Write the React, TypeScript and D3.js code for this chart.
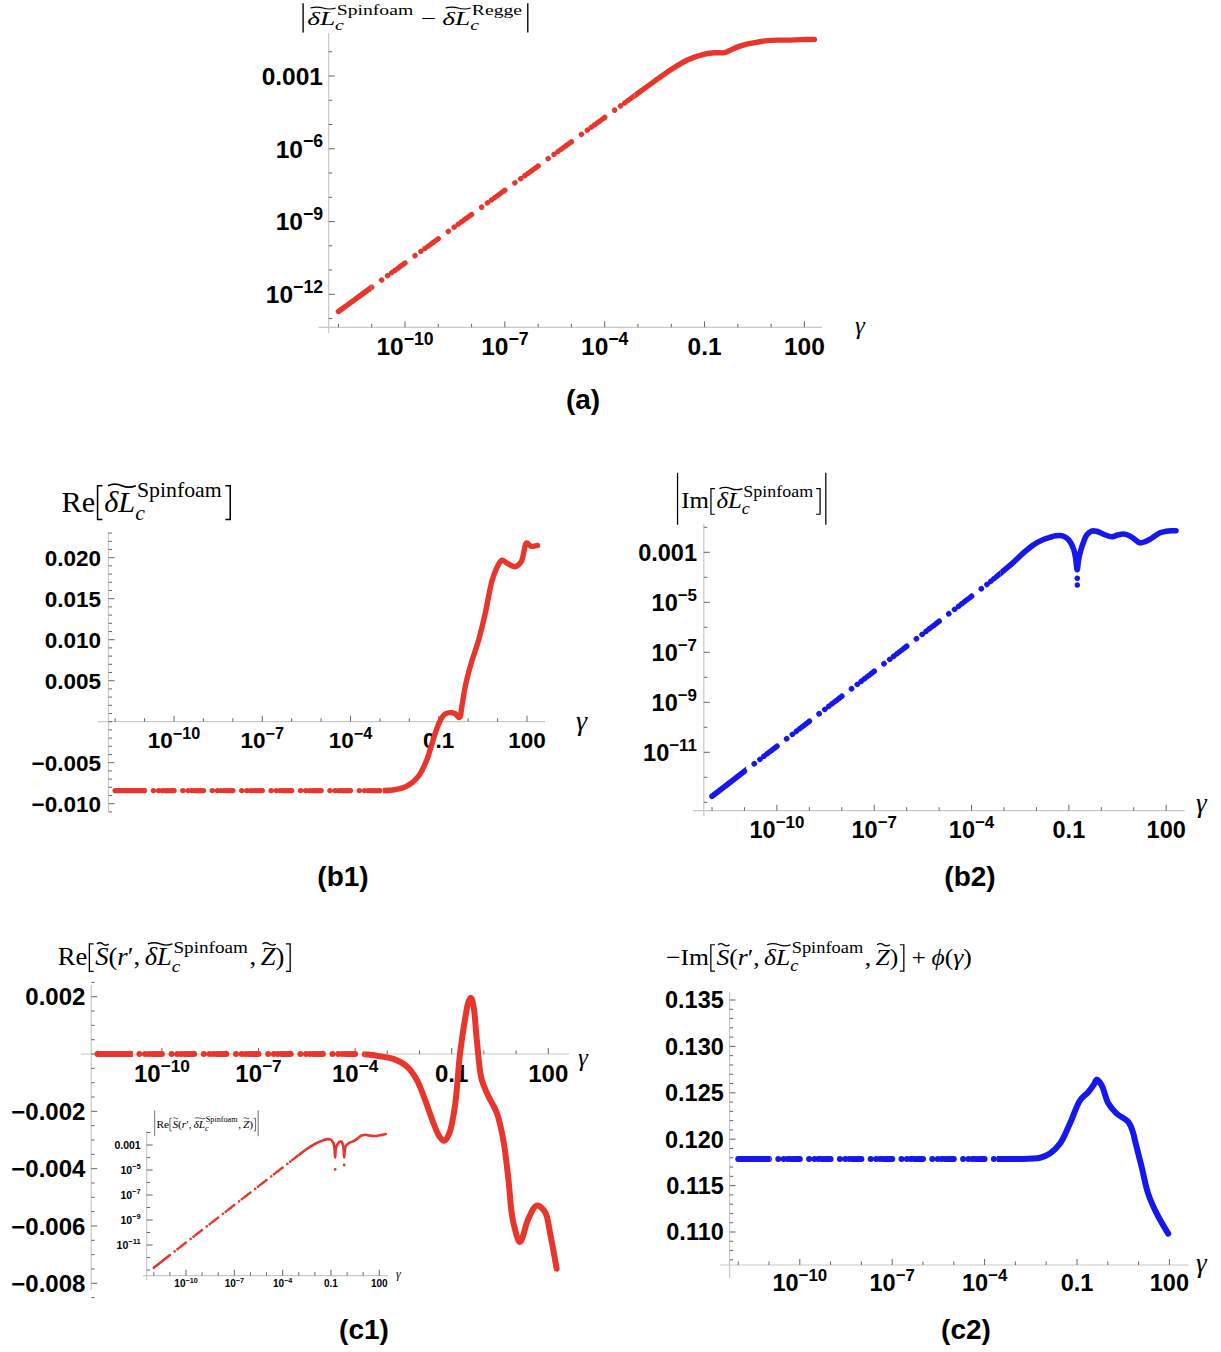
import React from 'react';
import * as d3 from 'd3';

const RED = '#e8362c';
const BLUE = '#1616ee';
const AXIS = '#c8c8c8';
const TICK = '#666666';
const SANS = "'Liberation Sans', Arial, sans-serif";
const SERIF = "'Liberation Serif', 'DejaVu Serif', serif";

// ---------------- data (log10 of gamma, values) ----------------
// (a) |dL spinfoam - dL regge|  (log10 of value)
const aLogGamma = [-12, -11.5, -11, -10, -9, -8, -7, -6, -5, -4, -3, -2.5, -2.0, -1.5, -1.0, -0.7, -0.4, -0.25, 0, 0.3, 0.6, 0.9, 1.2, 1.5, 1.9, 2.3];
const aLogValue = [-12.71, -12.21, -11.71, -10.71, -9.71, -8.71, -7.71, -6.71, -5.71, -4.71, -3.71, -3.21, -2.73, -2.33, -2.10, -2.04, -2.04, -1.95, -1.80, -1.68, -1.60, -1.54, -1.52, -1.52, -1.50, -1.49];

// (b1) Re[dL spinfoam]
const b1LogGamma = [-12, -11, -10, -9, -8, -7, -6, -5, -4, -3, -2.9, -2.5, -2.1, -1.7, -1.41, -1.19, -0.97, -0.8, -0.62, -0.45, -0.3, -0.2, -0.1, 0.1, 0.36, 0.58, 0.82, 1.02, 1.15, 1.34, 1.6, 1.8, 1.99, 2.13, 2.36];
const b1Value = [-0.0084, -0.0084, -0.0084, -0.0084, -0.0084, -0.0084, -0.0084, -0.0084, -0.0084, -0.0084, -0.0084, -0.0083, -0.0079, -0.0067, -0.0047, -0.0022, 0.0000, 0.0009, 0.0011, 0.0010, 0.0005, 0.0022, 0.0043, 0.0071, 0.0100, 0.0132, 0.0173, 0.0191, 0.0197, 0.0193, 0.0189, 0.0195, 0.0218, 0.0214, 0.0215];

// (b2) |Im[dL spinfoam]| (log10 of value)
const b2LogGamma = [-12, -11, -10, -9, -8, -7, -6, -5, -4, -3.5, -3.0, -2.71, -2.4, -2.1, -1.8, -1.58, -1.4, -1.22, -1.08, -0.96, -0.85, -0.79, -0.745, -0.70, -0.64, -0.55, -0.45, -0.3, -0.15, 0.06, 0.32, 0.5, 0.68, 0.85, 0.99, 1.19, 1.35, 1.5, 1.81, 2.0, 2.17, 2.3];
const b2LogValue = [-12.76, -11.76, -10.76, -9.76, -8.76, -7.76, -6.76, -5.76, -4.76, -4.26, -3.72, -3.40, -3.02, -2.71, -2.50, -2.40, -2.34, -2.34, -2.42, -2.58, -2.88, -3.25, -3.70, -3.30, -2.95, -2.60, -2.31, -2.15, -2.16, -2.27, -2.38, -2.31, -2.27, -2.33, -2.44, -2.62, -2.57, -2.48, -2.22, -2.16, -2.14, -2.14];
const b2DipLogGamma = [-0.74, -0.74];
const b2DipLogValue = [-4.04, -4.31];

// (c1) Re[S(r', dL, Z)]
const c1LogGamma = [-12, -11, -10, -9, -8, -7, -6, -5, -4, -3.6, -3.23, -2.81, -2.4, -2.09, -1.83, -1.57, -1.38, -1.24, -1.08, -0.9, -0.74, -0.59, -0.47, -0.4, -0.32, -0.22, -0.07, 0.14, 0.4, 0.6, 0.76, 0.86, 0.95, 1.12, 1.38, 1.64, 1.9, 2.05, 2.26];
const c1Value = [0, 0, 0, 0, 0, 0, 0, 0, 0, -0.00002, -0.00008, -0.00017, -0.00043, -0.00089, -0.00159, -0.0024, -0.00288, -0.00303, -0.00278, -0.00182, 0.00003, 0.00119, 0.00185, 0.00196, 0.00165, 0.0005, -0.00089, -0.00147, -0.00205, -0.00298, -0.00436, -0.00552, -0.00605, -0.00656, -0.00575, -0.00529, -0.00552, -0.00622, -0.00749];

// (c1 inset) |Re[S]| (log10 of value)
const inLogGamma = [-12, -11, -10, -9, -8, -7, -6, -5, -4, -3, -2.5, -2.0, -1.6, -1.24, -1.0, -0.85, -0.78, -0.74, -0.70, -0.59, -0.4, -0.3, -0.22, -0.18, -0.14, -0.07, 0.14, 0.4, 0.6, 0.76, 0.9, 1.12, 1.38, 1.64, 1.9, 2.1, 2.4];
const inLogValue = [-12.82, -11.81, -10.8, -9.8, -8.8, -7.8, -6.8, -5.8, -4.8, -3.8, -3.32, -2.92, -2.68, -2.53, -2.58, -2.85, -3.3, -4.0, -3.3, -2.92, -2.71, -2.82, -3.3, -4.0, -3.4, -3.05, -2.83, -2.69, -2.53, -2.36, -2.24, -2.18, -2.24, -2.28, -2.26, -2.21, -2.12];
const inDipLogGamma = [-0.74, -0.18];
const inDipLogValue = [-4.95, -4.6];

// (c2) -Im[S] + phi
const c2LogGamma = [-12, -11, -10, -9, -8, -7, -6, -5, -4, -3, -2.2, -1.88, -1.55, -1.23, -0.9, -0.63, -0.45, -0.36, -0.2, 0.02, 0.29, 0.67, 0.83, 0.88, 1.1, 1.31, 1.59, 1.96];
const c2Value = [0.11787, 0.11787, 0.11787, 0.11787, 0.11787, 0.11787, 0.11787, 0.11787, 0.11787, 0.11787, 0.1180, 0.11845, 0.11953, 0.12168, 0.12419, 0.12509, 0.1259, 0.12642, 0.12581, 0.12384, 0.12276, 0.12185, 0.1206, 0.11988, 0.1170, 0.11414, 0.11198, 0.10983];

// ---------------- ticks ----------------
const xMajorExp = [-10, -7, -4, -1, 2];
const xMajorLabel = ['10^-10', '10^-7', '10^-4', '0.1', '100'];
const xMinorExp = d3.range(-12, 3);
const aYMajorExp = [-3, -6, -9, -12];
const aYMajorLabel = ['0.001', '10^-6', '10^-9', '10^-12'];
const b2YMajorExp = [-3, -5, -7, -9, -11];
const b2YMajorLabel = ['0.001', '10^-5', '10^-7', '10^-9', '10^-11'];
const logYMinorExp = d3.range(-13, -1);
const b1YMajor = [0.02, 0.015, 0.01, 0.005, -0.005, -0.01];
const b1YMajorLabel = ['0.020', '0.015', '0.010', '0.005', '-0.005', '-0.010'];
const b1YMinor = d3.range(-11, 24).map((i) => i * 0.001);
const c1YMajor = [0.002, -0.002, -0.004, -0.006, -0.008];
const c1YMajorLabel = ['0.002', '-0.002', '-0.004', '-0.006', '-0.008'];
const c1YMinor = d3.range(-17, 6).map((i) => i * 0.0005);
const c2YMajor = [0.135, 0.13, 0.125, 0.12, 0.115, 0.11];
const c2YMajorLabel = ['0.135', '0.130', '0.125', '0.120', '0.115', '0.110'];
const c2YMinor = d3.range(107, 136).map((i) => i * 0.001);

// ---------------- helpers ----------------
let _ctx: any = null;
function measure(t: string, size: number, italic = false): number {
  if (!_ctx) _ctx = document.createElement('canvas').getContext('2d');
  _ctx.font = `${italic ? 'italic ' : ''}${size}px ${SERIF}`;
  return _ctx.measureText(t).width;
}

const fixMinus = (s: string) => s.replace('-', '\u2212');

function TickLabel({ x, y, size, label, anchor }: any) {
  const m = /^10\^(-?\d+)$/.exec(label);
  return (
    <text x={x} y={y} fontSize={size} fontFamily={SANS} fontWeight="bold" textAnchor={anchor} fill="#000">
      {m ? (
        <>
          10
          <tspan dy={-0.42 * size} fontSize={size * 0.72}>
            {fixMinus(m[1])}
          </tspan>
        </>
      ) : (
        fixMinus(label)
      )}
    </text>
  );
}

function decadeDash(L: number) {
  const parts: string[] = [];
  for (let k = 1; k <= 9; k++) {
    const g = (Math.log10(k + 1) - Math.log10(k)) * L;
    parts.push(`0.01 ${Math.max(0.01, g - 0.01).toFixed(3)}`);
  }
  return parts.join(' ');
}

function Axes({ xLine, yLine, xTicks, yTicks }: any) {
  return (
    <g>
      <line x1={xLine.x0} x2={xLine.x1} y1={xLine.y} y2={xLine.y} stroke={AXIS} strokeWidth={1.2} />
      <line x1={yLine.x} x2={yLine.x} y1={yLine.y0} y2={yLine.y1} stroke={AXIS} strokeWidth={1.2} />
      {xTicks.map((t: any, i: number) => (
        <line key={'xt' + i} x1={t.p} x2={t.p} y1={xLine.y} y2={xLine.y - (t.major ? 6 : 3.5)} stroke={TICK} strokeWidth={1} />
      ))}
      {yTicks.map((t: any, i: number) => (
        <line key={'yt' + i} x1={yLine.x} x2={yLine.x + (t.major ? 6 : 3.5)} y1={t.p} y2={t.p} stroke={TICK} strokeWidth={1} />
      ))}
    </g>
  );
}

function Series({ id, pts, color, width, segs, dash }: any) {
  const d = d3.line().curve(d3.curveCatmullRom.alpha(0.5))(pts) || '';
  return (
    <g>
      <defs>
        {segs.map((s: any, i: number) => (
          <clipPath id={`${id}-${i}`} key={i}>
            <rect x={s[0]} y={0} width={s[1] - s[0]} height={1352} />
          </clipPath>
        ))}
      </defs>
      {segs.map((s: any, i: number) => (
        <path
          key={i}
          d={d}
          clipPath={`url(#${id}-${i})`}
          fill="none"
          stroke={color}
          strokeWidth={width}
          strokeLinecap="round"
          strokeLinejoin="round"
          strokeDasharray={s[2] ? dash : undefined}
        />
      ))}
    </g>
  );
}

// ---------------- math titles ----------------
type TI =
  | { k: 't'; t: string; it?: boolean; tl?: boolean }
  | { k: 'ss'; sup: string; sub: string }
  | { k: 'd'; t: string; top: number; bot: number }
  | { k: 'sp'; w: number };

const SS = 0.72;
function itemWidth(it: TI, F: number): number {
  if (it.k === 't') return measure(it.t, F, !!it.it);
  if (it.k === 'ss') return Math.max(measure(it.sup, F * SS) + 0.06 * F, measure(it.sub, F * SS, true)) + 0.06 * F;
  if (it.k === 'd') return 0.3 * F;
  return it.w * F;
}

function tildePath(x0: number, w: number, y: number, a: number) {
  return `M${x0},${y} q${w / 4},${-2 * a} ${w / 2},0 t${w / 2},0`;
}

function MathTitle({ items, left, right, base, shrink = 1 }: { items: TI[]; left: number; right: number; base: number; shrink?: number }) {
  const F0 = 20;
  const W0 = items.reduce((s, it) => s + itemWidth(it, F0), 0);
  const F = ((F0 * (right - left)) / W0) * shrink;
  const kx = 1 / shrink;
  let x = left;
  const els: any[] = [];
  items.forEach((it, i) => {
    const w = itemWidth(it, F);
    if (it.k === 't') {
      els.push(
        <text key={i} x={x} y={base} fontSize={F} fontFamily={SERIF} fontStyle={it.it ? 'italic' : 'normal'} fill="#000">
          {it.t}
        </text>
      );
      if (it.tl) {
        els.push(<path key={i + 'tl'} d={tildePath(x + 0.12 * w, w * 0.9, base - 0.86 * F, 0.05 * F)} fill="none" stroke="#000" strokeWidth={0.055 * F} />);
      }
    } else if (it.k === 'ss') {
      els.push(
        <text key={i + 'sup'} x={x + 0.06 * F} y={base - 0.5 * F} fontSize={F * SS} fontFamily={SERIF} fill="#000">
          {it.sup}
        </text>
      );
      els.push(
        <text key={i + 'sub'} x={x} y={base + 0.27 * F} fontSize={F * SS} fontFamily={SERIF} fontStyle="italic" fill="#000">
          {it.sub}
        </text>
      );
    } else if (it.k === 'd') {
      const top = base - it.top * F;
      const bot = base + it.bot * F;
      const sw = 0.05 * F;
      let p = '';
      if (it.t === '[') p = `M${x + 0.24 * F},${top} H${x + 0.08 * F} V${bot} H${x + 0.24 * F}`;
      else if (it.t === ']') p = `M${x + 0.06 * F},${top} H${x + 0.22 * F} V${bot} H${x + 0.06 * F}`;
      else p = `M${x + 0.15 * F},${top} V${bot}`;
      els.push(<path key={i} d={p} fill="none" stroke="#000" strokeWidth={sw} />);
    }
    x += w;
  });
  return <g transform={`translate(${left},0) scale(${kx},1) translate(${-left},0)`}>{els}</g>;
}

const T = (t: string, it = false, tl = false): TI => ({ k: 't', t, it, tl });
const SP = (w: number): TI => ({ k: 'sp', w });
const D = (t: string, top = 0.86, bot = 0.26): TI => ({ k: 'd', t, top, bot });
const DB = (t: string): TI => ({ k: 'd', t, top: 1.55, bot: 0.72 });
const dL: TI = T('\u03b4L', true, true);
const ssSF: TI = { k: 'ss', sup: 'Spinfoam', sub: 'c' };
const sArgs: TI[] = [T('S', true, true), T('('), T('r', true), T('\u2032'), T(','), SP(0.17), dL, ssSF, T(','), SP(0.17), T('Z', true, true), T(')')];

const titleA: TI[] = [D('|', 1.1, 0.38), dL, ssSF, SP(0.22), T('\u2212'), SP(0.22), dL, { k: 'ss', sup: 'Regge', sub: 'c' }, D('|', 1.1, 0.38)];
const titleB1: TI[] = [T('Re'), D('['), dL, ssSF, D(']')];
const titleB2: TI[] = [DB('|'), T('Im'), D('['), dL, ssSF, D(']'), DB('|')];
const titleC1: TI[] = [T('Re'), D('['), ...sArgs, D(']')];
const titleC2: TI[] = [T('\u2212Im'), D('['), ...sArgs, D(']'), SP(0.22), T('+'), SP(0.22), T('\u03d5', true), T('('), T('\u03b3', true), T(')')];
const titleIn: TI[] = [DB('|'), T('Re'), D('['), ...sArgs, D(']'), DB('|')];

function Gamma({ x, y, size }: any) {
  return (
    <text x={x} y={y} fontSize={size} fontFamily={SERIF} fontStyle="italic" fill="#000">
      {'\u03b3'}
    </text>
  );
}

function PanelLabel({ x, y, t }: any) {
  return (
    <text x={x} y={y} fontSize={28} fontFamily={SANS} fontWeight="bold" textAnchor="middle" fill="#000">
      {t}
    </text>
  );
}

// ---------------- panels ----------------
function xTicksOf(x: any) {
  return xMinorExp.map((e) => ({ p: x(10 ** e), major: xMajorExp.includes(e) }));
}
function xLabelsOf(x: any, y: number, size: number) {
  return xMajorExp.map((e, i) => <TickLabel key={'xl' + i} x={x(10 ** e)} y={y} size={size} label={xMajorLabel[i]} anchor="middle" />);
}

function PanelA() {
  const x = d3.scaleLog().domain([1e-10, 100]).range([405, 804.4]);
  const y = d3.scaleLog().domain([1e-12, 1e-3]).range([294.3, 76]);
  const pts = aLogGamma.map((g, i) => [x(10 ** g), y(10 ** aLogValue[i])] as [number, number]);
  const L = Math.hypot(x(1e-11) - x(1e-12), y(1e-12) - y(1e-11));
  const w = 5.4;
  const fs = 24.5;
  const segs = [
    [x(1e-12) - w, x(1e-11), false],
    [x(1e-11), x(10 ** -3.1), true],
    [x(10 ** -3.1), x(10 ** 2.3) + w, false],
  ];
  return (
    <g>
      <MathTitle items={titleA} left={299} right={532} base={25} shrink={0.72} />
      <Axes
        xLine={{ y: 327.3, x0: 318.4, x1: 822 }}
        yLine={{ x: 328.7, y0: 33, y1: 333 }}
        xTicks={xTicksOf(x)}
        yTicks={logYMinorExp.map((e) => ({ p: y(10 ** e), major: aYMajorExp.includes(e) }))}
      />
      {xLabelsOf(x, 355, fs)}
      {aYMajorExp.map((e, i) => (
        <TickLabel key={'yl' + i} x={323} y={y(10 ** e) + 0.36 * fs} size={fs} label={aYMajorLabel[i]} anchor="end" />
      ))}
      <Series id="sa" pts={pts} color={RED} width={w} segs={segs} dash={decadeDash(L)} />
      <Gamma x={855} y={334} size={25} />
      <PanelLabel x={583} y={409} t="(a)" />
    </g>
  );
}

function PanelB1() {
  const x = d3.scaleLog().domain([1e-10, 100]).range([174, 527]);
  const y = d3.scaleLinear().domain([-0.01, 0.02]).range([803.7, 557.7]);
  const pts = b1LogGamma.map((g, i) => [x(10 ** g), y(b1Value[i])] as [number, number]);
  const L = x(1e-11) - x(1e-12);
  const w = 5.4;
  const fs = 22.5;
  const segs = [
    [x(1e-12) - w, x(10 ** -10.95), false],
    [x(10 ** -10.95), x(10 ** -2.9), true],
    [x(10 ** -2.9), x(10 ** 2.4) + w, false],
  ];
  return (
    <g>
      <MathTitle items={titleB1} left={61.5} right={232.7} base={511.7} />
      <Axes
        xLine={{ y: y(0), x0: 98, x1: 545 }}
        yLine={{ x: 108.5, y0: 532, y1: 812 }}
        xTicks={xTicksOf(x)}
        yTicks={b1YMinor.map((v) => ({ p: y(v), major: b1YMajor.some((m) => Math.abs(m - v) < 1e-9) }))}
      />
      {xLabelsOf(x, 748, fs)}
      {b1YMajor.map((v, i) => (
        <TickLabel key={'yl' + i} x={101} y={y(v) + 0.36 * fs} size={fs} label={b1YMajorLabel[i]} anchor="end" />
      ))}
      <Series id="sb1" pts={pts} color={RED} width={w} segs={segs} dash={decadeDash(L)} />
      <Gamma x={576} y={730} size={28} />
      <PanelLabel x={343} y={886} t="(b1)" />
    </g>
  );
}

function PanelB2() {
  const x = d3.scaleLog().domain([1e-10, 100]).range([776.9, 1166.2]);
  const y = d3.scaleLog().domain([1e-11, 1e-3]).range([752.3, 552.3]);
  const pts = b2LogGamma.map((g, i) => [x(10 ** g), y(10 ** b2LogValue[i])] as [number, number]);
  const L = Math.hypot(x(1e-11) - x(1e-12), y(1e-12) - y(1e-11));
  const w = 5.6;
  const fs = 23.5;
  const segs = [
    [x(1e-12) - w, x(10 ** -10.95), false],
    [x(10 ** -10.95), x(10 ** -3.1), true],
    [x(10 ** -3.1), x(10 ** 2.4) + w, false],
  ];
  return (
    <g>
      <MathTitle items={titleB2} left={673.8} right={829.6} base={508.3} shrink={0.92} />
      <Axes
        xLine={{ y: 810.7, x0: 693, x1: 1184.6 }}
        yLine={{ x: 703.8, y0: 524, y1: 816 }}
        xTicks={xTicksOf(x)}
        yTicks={logYMinorExp.map((e) => ({ p: y(10 ** e), major: b2YMajorExp.includes(e) }))}
      />
      {xLabelsOf(x, 838, fs)}
      {b2YMajorExp.map((e, i) => (
        <TickLabel key={'yl' + i} x={697} y={y(10 ** e) + 0.36 * fs} size={fs} label={b2YMajorLabel[i]} anchor="end" />
      ))}
      <Series id="sb2" pts={pts} color={BLUE} width={w} segs={segs} dash={decadeDash(L)} />
      {b2DipLogGamma.map((g, i) => (
        <circle key={i} cx={x(10 ** g)} cy={y(10 ** b2DipLogValue[i])} r={2.7} fill={BLUE} />
      ))}
      <Gamma x={1196} y={812} size={27} />
      <PanelLabel x={970} y={886} t="(b2)" />
    </g>
  );
}

function PanelC1() {
  const x = d3.scaleLog().domain([1e-10, 100]).range([161.9, 548.3]);
  const y = d3.scaleLinear().domain([-0.008, 0.002]).range([1283.3, 996.7]);
  const pts = c1LogGamma.map((g, i) => [x(10 ** g), y(c1Value[i])] as [number, number]);
  const L = x(1e-11) - x(1e-12);
  const w = 6;
  const fs = 24;
  const segs = [
    [x(1e-12) - w, x(10 ** -10.9), false],
    [x(10 ** -10.9), x(10 ** -3.7), true],
    [x(10 ** -3.7), x(10 ** 2.4) + w, false],
  ];
  // inset
  const ix = d3.scaleLog().domain([1e-10, 100]).range([186, 379.3]);
  const iy = d3.scaleLog().domain([1e-11, 1e-3]).range([1245, 1145]);
  const ipts = inLogGamma.map((g, i) => [ix(10 ** g), iy(10 ** inLogValue[i])] as [number, number]);
  const iL = Math.hypot(ix(1e-11) - ix(1e-12), iy(1e-12) - iy(1e-11));
  const iw = 2.6;
  const isegs = [
    [ix(1e-12) - iw, ix(1e-11), false],
    [ix(1e-11), ix(1e-3), true],
    [ix(1e-3), ix(10 ** 2.5) + iw, false],
  ];
  return (
    <g>
      <MathTitle items={titleC1} left={57.7} right={292.3} base={965} shrink={0.92} />
      <Axes
        xLine={{ y: y(0), x0: 80.8, x1: 569 }}
        yLine={{ x: 91.2, y0: 985, y1: 1290 }}
        xTicks={xTicksOf(x)}
        yTicks={c1YMinor.map((v) => ({ p: y(v), major: c1YMajor.some((m) => Math.abs(m - v) < 1e-9) }))}
      />
      {xLabelsOf(x, 1082, fs)}
      {c1YMajor.map((v, i) => (
        <TickLabel key={'yl' + i} x={85.4} y={y(v) + 0.36 * fs} size={fs} label={c1YMajorLabel[i]} anchor="end" />
      ))}
      <Series id="sc1" pts={pts} color={RED} width={w} segs={segs} dash={decadeDash(L)} />
      <Gamma x={578} y={1066} size={25} />

      {/* inset */}
      <MathTitle items={titleIn} left={153} right={260} base={1128} />
      <Axes
        xLine={{ y: 1275.7, x0: 143, x1: 388 }}
        yLine={{ x: 146.7, y0: 1131, y1: 1280 }}
        xTicks={xMinorExp.map((e) => ({ p: ix(10 ** e), major: xMajorExp.includes(e) }))}
        yTicks={logYMinorExp.map((e) => ({ p: iy(10 ** e), major: b2YMajorExp.includes(e) }))}
      />
      {xMajorExp.map((e, i) => (
        <TickLabel key={'ixl' + i} x={ix(10 ** e)} y={1287} size={10} label={xMajorLabel[i]} anchor="middle" />
      ))}
      {b2YMajorExp.map((e, i) => (
        <TickLabel key={'iyl' + i} x={140.7} y={iy(10 ** e) + 3.8} size={10.5} label={b2YMajorLabel[i]} anchor="end" />
      ))}
      <Series id="sin" pts={ipts} color={RED} width={iw} segs={isegs} dash={decadeDash(iL)} />
      {inDipLogGamma.map((g, i) => (
        <circle key={i} cx={ix(10 ** g)} cy={iy(10 ** inDipLogValue[i])} r={1.4} fill={RED} />
      ))}
      <Gamma x={396} y={1278} size={12} />
      <PanelLabel x={364} y={1339} t="(c1)" />
    </g>
  );
}

function PanelC2() {
  const x = d3.scaleLog().domain([1e-10, 100]).range([799.8, 1169.4]);
  const y = d3.scaleLinear().domain([0.11, 0.135]).range([1232, 1000]);
  const pts = c2LogGamma.map((g, i) => [x(10 ** g), y(c2Value[i])] as [number, number]);
  const L = x(1e-11) - x(1e-12);
  const w = 6;
  const fs = 23.5;
  const segs = [
    [x(1e-12) - w, x(10 ** -10.95), false],
    [x(10 ** -10.95), x(10 ** -3.6), true],
    [x(10 ** -3.6), x(10 ** 2.1) + w, false],
  ];
  return (
    <g>
      <MathTitle items={titleC2} left={666} right={972} base={965} shrink={0.92} />
      <Axes
        xLine={{ y: 1265, x0: 720, x1: 1188.5 }}
        yLine={{ x: 729.6, y0: 991.7, y1: 1278 }}
        xTicks={xTicksOf(x)}
        yTicks={c2YMinor.map((v) => ({ p: y(v), major: c2YMajor.some((m) => Math.abs(m - v) < 1e-9) }))}
      />
      {xLabelsOf(x, 1291, fs)}
      {c2YMajor.map((v, i) => (
        <TickLabel key={'yl' + i} x={723.8} y={y(v) + 0.36 * fs} size={fs} label={c2YMajorLabel[i]} anchor="end" />
      ))}
      <Series id="sc2" pts={pts} color={BLUE} width={w} segs={segs} dash={decadeDash(L)} />
      <Gamma x={1196} y={1272} size={27} />
      <PanelLabel x={966} y={1339} t="(c2)" />
    </g>
  );
}

export default function App() {
  return (
    <svg
      width={1221}
      height={1352}
      viewBox="0 0 1221 1352"
      style={{ position: 'absolute', left: 0, top: 0, background: '#fff' }}
    >
      <rect x={0} y={0} width={1221} height={1352} fill="#fff" />
      <PanelA />
      <PanelB1 />
      <PanelB2 />
      <PanelC1 />
      <PanelC2 />
    </svg>
  );
}
